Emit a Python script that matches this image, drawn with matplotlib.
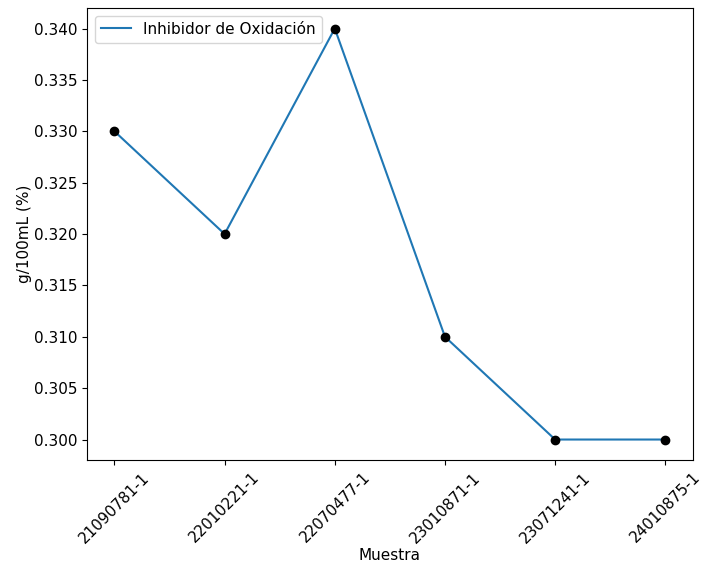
import matplotlib
matplotlib.use("Agg")
from matplotlib import pyplot as plt

muestras = ["21090781-1", "22010221-1", "22070477-1", "23010871-1", "23071241-1", "24010875-1"]
valores = [0.330, 0.320, 0.340, 0.310, 0.300, 0.300]

plt.rcParams["font.size"] = 11

fig, ax = plt.subplots(figsize=(7.18, 5.68), dpi=100)
ax.plot(muestras, valores, label="Inhibidor de Oxidación", color="#1f77b4")
ax.plot(muestras, valores, "o", color="black", markersize=6)

ax.set_xlabel("Muestra", labelpad=1.5)
ax.set_ylabel("g/100mL (%)", labelpad=1)
ax.yaxis.set_major_formatter(matplotlib.ticker.FormatStrFormatter("%.3f"))
plt.xticks(rotation=45)
ax.legend(loc="upper left")

fig.subplots_adjust(left=0.121, right=0.965, top=0.986, bottom=0.19)
fig.savefig("out.png", dpi=100)
